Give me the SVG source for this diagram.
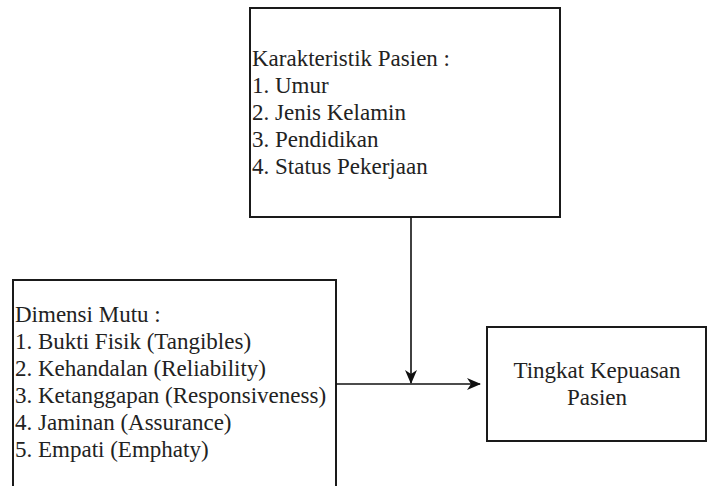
<svg xmlns="http://www.w3.org/2000/svg" width="708" height="486" viewBox="0 0 708 486">
<style>
.box{fill:#fff;stroke:#1a1a1a;stroke-width:2}
.t{font-family:'Liberation Serif','DejaVu Serif',serif;font-size:23px;fill:#222}
.c{text-anchor:middle}
.ln{stroke:#111;stroke-width:1.6;fill:none}
</style>
<defs>
<marker id="arr" markerWidth="14" markerHeight="12" refX="13" refY="6" orient="auto" markerUnits="userSpaceOnUse">
<path d="M0,0 L14,6 L0,12 L4,6 Z" fill="#111"/>
</marker>
</defs>
<rect width="708" height="486" fill="#fff"/>
<g id="node-karakteristik">
<rect class="box" x="250" y="8" width="310" height="209"/>
<text class="t" font-family="Liberation Serif" x="252" y="66">Karakteristik Pasien :</text>
<text class="t" font-family="Liberation Serif" x="252" y="93">1. Umur</text>
<text class="t" font-family="Liberation Serif" x="252" y="120">2. Jenis Kelamin</text>
<text class="t" font-family="Liberation Serif" x="252" y="147">3. Pendidikan</text>
<text class="t" font-family="Liberation Serif" x="252" y="174">4. Status Pekerjaan</text>
</g>
<g id="node-dimensi">
<rect class="box" x="13" y="280" width="323" height="215"/>
<text class="t" font-family="Liberation Serif" x="15" y="322">Dimensi Mutu :</text>
<text class="t" font-family="Liberation Serif" x="15" y="349">1. Bukti Fisik (Tangibles)</text>
<text class="t" font-family="Liberation Serif" x="15" y="376">2. Kehandalan (Reliability)</text>
<text class="t" font-family="Liberation Serif" x="15" y="403">3. Ketanggapan (Responsiveness)</text>
<text class="t" font-family="Liberation Serif" x="15" y="430">4. Jaminan (Assurance)</text>
<text class="t" font-family="Liberation Serif" x="15" y="457">5. Empati (Emphaty)</text>
</g>
<g id="node-kepuasan">
<rect class="box" x="487" y="327" width="219" height="114"/>
<text class="t c" font-family="Liberation Serif" x="597" y="378">Tingkat Kepuasan</text>
<text class="t c" font-family="Liberation Serif" x="597" y="405">Pasien</text>
</g>
<g id="connectors">
<line class="ln" x1="411" y1="217" x2="411" y2="383" marker-end="url(#arr)"/>
<line class="ln" x1="336" y1="384" x2="480" y2="384" marker-end="url(#arr)"/>
</g>
</svg>
